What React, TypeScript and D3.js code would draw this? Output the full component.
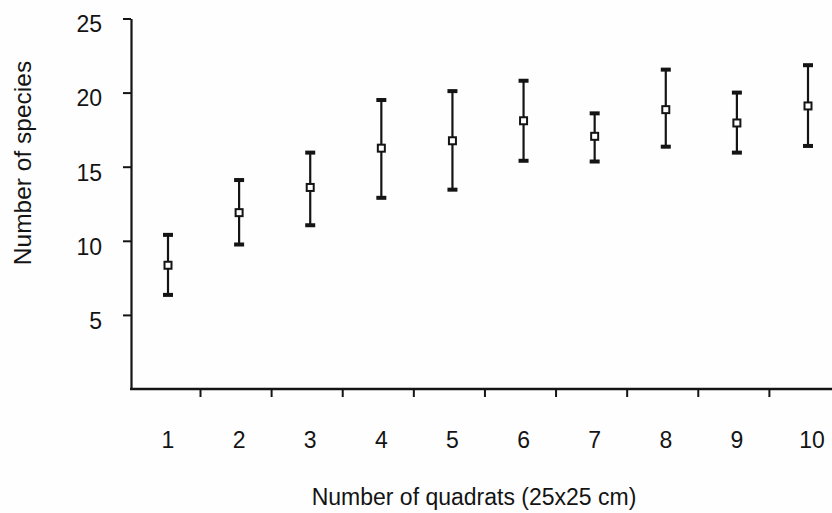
import React, { useEffect, useRef } from "react";
import * as d3 from "d3";

// Species accumulation: mean number of species (with range) per number of quadrats
const quadrats = [1, 2, 3, 4, 5, 6, 7, 8, 9, 10];
const meanSpecies = [8.35, 11.9, 13.6, 16.25, 16.75, 18.1, 17.05, 18.85, 17.95, 19.1];
const upperSpecies = [10.4, 14.1, 15.95, 19.5, 20.1, 20.8, 18.6, 21.55, 20.0, 21.85];
const lowerSpecies = [6.35, 9.75, 11.05, 12.9, 13.45, 15.4, 15.35, 16.35, 15.95, 16.4];
const yTickValues = [5, 10, 15, 20, 25];

const W = 832;
const H = 513;
const FONT = "'Liberation Sans', Arial, Helvetica, sans-serif";
const INK = "#141414";

export default function App() {
  const yAxisRef = useRef<SVGGElement>(null);
  const xAxisRef = useRef<SVGGElement>(null);

  const axisX0 = 131;
  const axisY0 = 389;

  const x = d3.scaleLinear().domain([1, 10]).range([168, 808]);
  const y = d3.scaleLinear().domain([0, 25]).range([axisY0, 18.5]);

  // tick marks sit between neighbouring quadrat counts
  const boundaries = quadrats.slice(0, -1).map((q) => q + 0.45);

  useEffect(() => {
    document.body.style.margin = "0";
    if (yAxisRef.current) {
      const g = d3.select(yAxisRef.current);
      g.selectAll("*").remove();
      g.call(
        d3
          .axisLeft(y)
          .tickValues(yTickValues)
          .tickSize(8)
          .tickSizeOuter(0)
          .tickPadding(21)
          .tickFormat(d3.format("d"))
      );
      g.select(".domain").attr("stroke", INK).attr("stroke-width", 2.2);
      g.selectAll(".tick line").attr("stroke", INK).attr("stroke-width", 2);
      g.selectAll(".tick text")
        .attr("fill", INK)
        .attr("font-family", FONT)
        .attr("font-size", 23)
        .attr("dy", "0.58em");
      g.attr("font-family", null).attr("font-size", null);
    }
    if (xAxisRef.current) {
      const g = d3.select(xAxisRef.current);
      g.selectAll("*").remove();
      g.call(
        d3
          .axisBottom(x)
          .tickValues(boundaries)
          .tickSize(8)
          .tickSizeOuter(0)
          .tickFormat(() => "")
      );
      g.select(".domain").remove();
      g.selectAll(".tick line").attr("stroke", INK).attr("stroke-width", 2);
    }
  }, []);

  const capW = 10;
  const capH = 4;
  const box = 7;

  return (
    <svg
      width={W}
      height={H}
      viewBox={`0 0 ${W} ${H}`}
      style={{ display: "block", position: "absolute", left: 0, top: 0, background: "#fefefe" }}
    >
      <rect x={0} y={0} width={W} height={H} fill="#fefefe" />
      <g ref={yAxisRef} transform={`translate(${axisX0},0)`} />
      <line x1={axisX0 - 1} x2={W} y1={axisY0} y2={axisY0} stroke={INK} strokeWidth={2.4} />
      <g ref={xAxisRef} transform={`translate(0,${axisY0})`} />

      {quadrats.map((q) => (
        <text
          key={`xl${q}`}
          x={x(q) + (q === 10 ? 4 : 0)}
          y={448}
          textAnchor="middle"
          fontFamily={FONT}
          fontSize={23}
          fill={INK}
        >
          {q}
        </text>
      ))}

      {quadrats.map((q, i) => {
        const cx = x(q);
        const yHi = y(upperSpecies[i]);
        const yLo = y(lowerSpecies[i]);
        const yM = y(meanSpecies[i]);
        return (
          <g key={`eb${q}`}>
            <line x1={cx} x2={cx} y1={yHi} y2={yLo} stroke={INK} strokeWidth={2.2} />
            <rect x={cx - capW / 2} y={yHi - capH / 2} width={capW} height={capH} fill={INK} />
            <rect x={cx - capW / 2} y={yLo - capH / 2} width={capW} height={capH} fill={INK} />
            <rect
              x={cx - box / 2}
              y={yM - box / 2}
              width={box}
              height={box}
              fill="#ffffff"
              stroke={INK}
              strokeWidth={2}
            />
          </g>
        );
      })}

      <text
        transform={`translate(31,${163}) rotate(-90)`}
        textAnchor="middle"
        fontFamily={FONT}
        fontSize={24.5}
        fill={INK}
      >
        Number of species
      </text>
      <text x={474} y={505} textAnchor="middle" fontFamily={FONT} fontSize={23} fill={INK}>
        Number of quadrats (25x25 cm)
      </text>
    </svg>
  );
}
